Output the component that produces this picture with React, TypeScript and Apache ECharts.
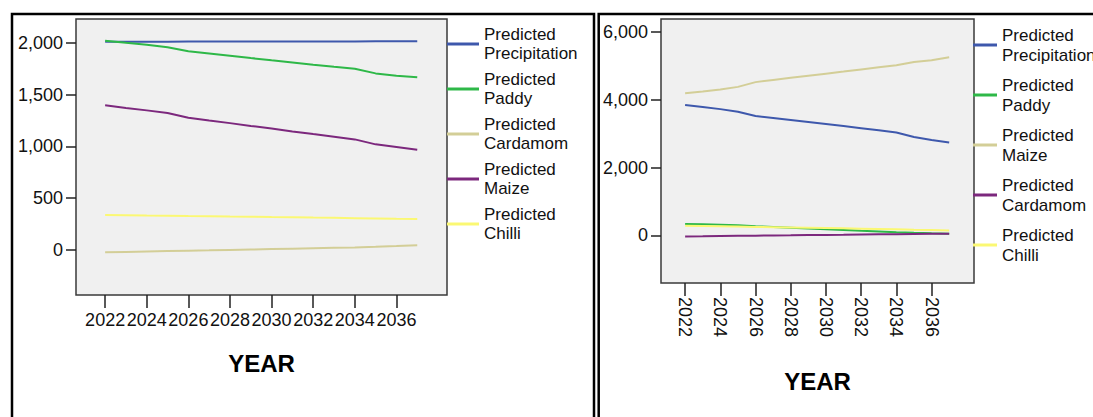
import React, { useEffect, useRef } from "react";
import * as echarts from "echarts";

// Forecast years shown on both panels
const years = [2022, 2023, 2024, 2025, 2026, 2027, 2028, 2029, 2030, 2031, 2032, 2033, 2034, 2035, 2036, 2037];
const yearTicks = [2022, 2024, 2026, 2028, 2030, 2032, 2034, 2036];

// Left panel series
const leftPrecipitation = [2010, 2010, 2011, 2011, 2012, 2012, 2012, 2013, 2013, 2013, 2014, 2014, 2014, 2015, 2015, 2015];
const leftPaddy = [2020, 2000, 1982, 1958, 1918, 1897, 1876, 1853, 1831, 1810, 1789, 1769, 1750, 1705, 1683, 1668];
const leftCardamom = [-22, -18, -14, -10, -6, -3, 1, 5, 9, 13, 17, 21, 25, 31, 38, 46];
const leftMaize = [1397, 1372, 1348, 1322, 1276, 1250, 1225, 1198, 1172, 1145, 1119, 1094, 1068, 1020, 994, 968];
const leftChilli = [338, 336, 333, 331, 328, 326, 323, 321, 318, 316, 313, 311, 308, 305, 302, 300];
const leftYTicks = [0, 500, 1000, 1500, 2000];

// Right panel series
const rightPrecipitation = [3840, 3780, 3720, 3640, 3520, 3460, 3400, 3340, 3280, 3220, 3160, 3100, 3030, 2900, 2810, 2740];
const rightPaddy = [335, 330, 318, 300, 270, 250, 228, 205, 180, 160, 138, 118, 97, 78, 62, 50];
const rightMaize = [4185, 4240, 4300, 4375, 4515, 4580, 4645, 4705, 4765, 4825, 4890, 4950, 5010, 5110, 5160, 5245];
const rightCardamom = [-30, -25, -18, -12, -6, 0, 5, 11, 17, 22, 28, 33, 38, 43, 47, 50];
const rightChilli = [285, 278, 270, 262, 252, 243, 235, 226, 218, 209, 200, 192, 183, 170, 160, 148];
const rightYTicks = [0, 2000, 4000, 6000];

const BLUE = "#3E58AC";
const GREEN = "#2EB848";
const KHAKI = "#D3CE97";
const PURPLE = "#7C287D";
const YELLOW = "#FBF873";

const FONT = "'Liberation Sans', Arial, sans-serif";

type SeriesDef = { name: string; color: string; values: number[] };

function lineSeries(defs: SeriesDef[]) {
  return defs.map((d) => ({
    type: "line",
    name: d.name,
    data: years.map((y, i) => [y, d.values[i]]),
    showSymbol: false,
    symbol: "none",
    color: d.color,
    lineStyle: { color: d.color, width: 2 },
  }));
}

function buildOption(cfg: {
  defs: SeriesDef[];
  frame: { x: number; y: number; w: number; h: number };
  grid: { left: number; top: number; width: number; height: number };
  xMin: number;
  xMax: number;
  yMin: number;
  yMax: number;
  yTicks: number[];
  rotate: number;
  labelMargin: number;
  nameGap: number;
  legend: { left: number; top: number; itemWidth: number; itemGap: number; lineHeight: number };
}) {
  return {
    animation: false,
    backgroundColor: "#ffffff",
    graphic: [
      {
        type: "rect",
        shape: { x: cfg.frame.x, y: cfg.frame.y, width: cfg.frame.w, height: cfg.frame.h },
        style: { fill: "none", stroke: "#000", lineWidth: 2.5 },
        silent: true,
      },
    ],
    grid: {
      ...cfg.grid,
      show: true,
      backgroundColor: "#F0F0F0",
      borderColor: "#3a3a3a",
      borderWidth: 1.5,
    },
    legend: {
      orient: "vertical",
      left: cfg.legend.left,
      top: cfg.legend.top,
      padding: 0,
      icon: "rect",
      itemWidth: cfg.legend.itemWidth,
      itemHeight: 3,
      itemGap: cfg.legend.itemGap,
      selectedMode: false,
      textStyle: {
        fontFamily: FONT,
        fontSize: 17,
        lineHeight: cfg.legend.lineHeight,
        color: "#111",
      },
      data: cfg.defs.map((d) => d.name),
    },
    xAxis: {
      type: "value",
      min: cfg.xMin,
      max: cfg.xMax,
      name: "YEAR",
      nameLocation: "middle",
      nameGap: cfg.nameGap,
      nameTextStyle: { fontFamily: FONT, fontSize: 24, fontWeight: "bold", color: "#000" },
      axisLine: { show: false, onZero: false },
      splitLine: { show: false },
      axisTick: {
        show: true,
        inside: false,
        length: 13,
        customValues: yearTicks,
        lineStyle: { color: "#222", width: 1.5 },
      },
      axisLabel: {
        customValues: yearTicks,
        rotate: cfg.rotate,
        margin: cfg.labelMargin,
        hideOverlap: false,
        fontFamily: FONT,
        fontSize: 18,
        color: "#111",
        formatter: (v: number) => String(v),
      },
    },
    yAxis: {
      type: "value",
      min: cfg.yMin,
      max: cfg.yMax,
      axisLine: { show: false, onZero: false },
      splitLine: { show: false },
      axisTick: {
        show: true,
        inside: false,
        length: 10,
        customValues: cfg.yTicks,
        lineStyle: { color: "#222", width: 1.5 },
      },
      axisLabel: {
        customValues: cfg.yTicks,
        margin: 13,
        fontFamily: FONT,
        fontSize: 18,
        color: "#111",
        formatter: (v: number) => v.toLocaleString("en-US"),
      },
    },
    series: lineSeries(cfg.defs),
  };
}

function Panel({ left, width, option }: { left: number; width: number; option: any }) {
  const ref = useRef<HTMLDivElement>(null);
  useEffect(() => {
    if (!ref.current) return;
    const chart = echarts.init(ref.current, undefined, { renderer: "svg" });
    chart.setOption(option);
    return () => chart.dispose();
  }, [option]);
  return <div ref={ref} style={{ position: "absolute", left, top: 0, width, height: 417 }} />;
}

const leftOption = buildOption({
  defs: [
    { name: "Predicted\nPrecipitation", color: BLUE, values: leftPrecipitation },
    { name: "Predicted\nPaddy", color: GREEN, values: leftPaddy },
    { name: "Predicted\nCardamom", color: KHAKI, values: leftCardamom },
    { name: "Predicted\nMaize", color: PURPLE, values: leftMaize },
    { name: "Predicted\nChilli", color: YELLOW, values: leftChilli },
  ],
  frame: { x: 12, y: 14, w: 582, h: 420 },
  grid: { left: 76, top: 19, width: 371, height: 276 },
  xMin: 2020.6,
  xMax: 2038.43,
  yMin: -434,
  yMax: 2230,
  yTicks: leftYTicks,
  rotate: 0,
  labelMargin: 16,
  nameGap: 56,
  legend: { left: 447, top: 25, itemWidth: 32, itemGap: 7, lineHeight: 19 },
});

const rightOption = buildOption({
  defs: [
    { name: "Predicted\nPrecipitation", color: BLUE, values: rightPrecipitation },
    { name: "Predicted\nPaddy", color: GREEN, values: rightPaddy },
    { name: "Predicted\nMaize", color: KHAKI, values: rightMaize },
    { name: "Predicted\nCardamom", color: PURPLE, values: rightCardamom },
    { name: "Predicted\nChilli", color: YELLOW, values: rightChilli },
  ],
  frame: { x: 1.7, y: 14, w: 600, h: 420 },
  grid: { left: 64, top: 19, width: 313, height: 264 },
  xMin: 2020.63,
  xMax: 2038.41,
  yMin: -1400,
  yMax: 6374,
  yTicks: rightYTicks,
  rotate: -90,
  labelMargin: 14,
  nameGap: 86,
  legend: { left: 376, top: 25, itemWidth: 24, itemGap: 10, lineHeight: 20 },
});

export default function App() {
  return (
    <div
      style={{
        position: "fixed",
        left: 0,
        top: 0,
        width: 1093,
        height: 417,
        overflow: "hidden",
        background: "#fff",
      }}
    >
      <Panel left={0} width={597} option={leftOption} />
      <Panel left={597} width={496} option={rightOption} />
    </div>
  );
}
